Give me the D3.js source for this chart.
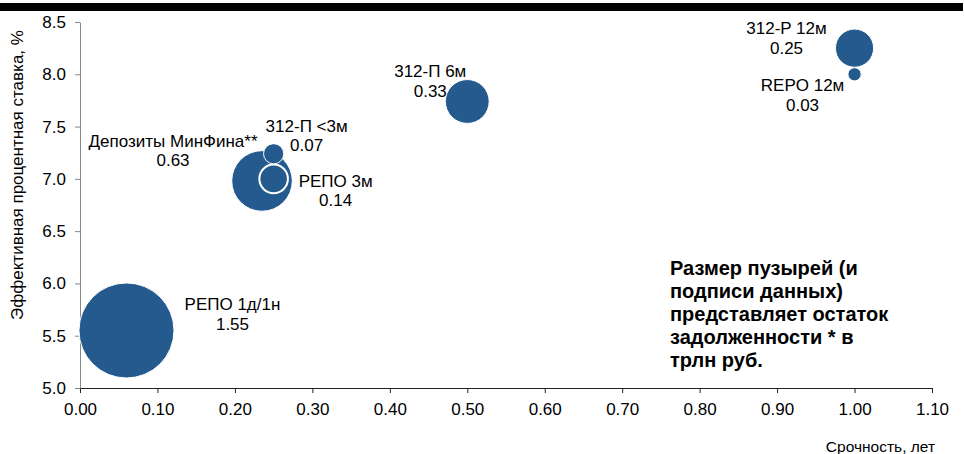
<!DOCTYPE html>
<html>
<head>
<meta charset="utf-8">
<script src="https://cdn.jsdelivr.net/npm/d3@7"></script>
<style>
  html, body { margin: 0; padding: 0; background: #fff; }
  svg { display: block; font-family: "Liberation Sans", Arial, sans-serif; }
</style>
</head>
<body>
<svg id="chart" width="964" height="454"></svg>
<script>
// Instruments: maturity (years), effective rate (%), outstanding debt (trn RUB)
const names    = ["РЕПО 1д/1н", "Депозиты МинФина**", "РЕПО 3м", "312-П <3м", "312-П 6м", "312-P 12м", "REPO 12м"];
const maturity = [0.06, 0.235, 0.25, 0.25, 0.50, 1.00, 1.00];
const rate     = [5.55, 6.98, 7.00, 7.24, 7.74, 8.25, 8.00];
const volume   = [1.55, 0.63, 0.14, 0.07, 0.33, 0.25, 0.03];
// label anchor offsets from bubble centre (px)
const labelDx  = [106, -89, 62, 33, -37, -68, -52];
const labelDy  = [-20, -34, 8, -22, -24, -14, 17];

const xTicks = [0, 0.1, 0.2, 0.3, 0.4, 0.5, 0.6, 0.7, 0.8, 0.9, 1.0, 1.1];
const yTicks = [5.0, 5.5, 6.0, 6.5, 7.0, 7.5, 8.0, 8.5];
const noteLines = ["Размер пузырей (и", "подписи данных)", "представляет остаток", "задолженности * в", "трлн руб."];

const svg = d3.select("#chart");
const blue = "#255a8f";
const font = "Liberation Sans, Arial, sans-serif";

// top rule
svg.append("rect").attr("x", 0).attr("y", 3).attr("width", 963).attr("height", 8).attr("fill", "#000");

const x = d3.scaleLinear().domain([0, 1.1]).range([80, 932]);
const y = d3.scaleLinear().domain([5, 8.5]).range([388, 22]);
const r = d3.scaleSqrt().domain([0, 1.55]).range([0, 47.5]);

// axes
const xAxis = svg.append("g").attr("transform", "translate(0,388)")
  .call(d3.axisBottom(x).tickValues(xTicks).tickFormat(d3.format(".2f")).tickSize(5).tickSizeOuter(0));
xAxis.select(".domain").attr("stroke", "#222");
xAxis.selectAll(".tick line").attr("stroke", "#222");
xAxis.selectAll("text").attr("font-size", 17).attr("fill", "#000").attr("y", 8).attr("dy", 19)
  .attr("font-family", font);

const yAxis = svg.append("g").attr("transform", "translate(80,0)")
  .call(d3.axisLeft(y).tickValues(yTicks).tickFormat(d3.format(".1f")).tickSize(5).tickSizeOuter(0));
yAxis.select(".domain").attr("stroke", "#888");
yAxis.selectAll(".tick line").attr("stroke", "#888");
yAxis.selectAll("text").attr("font-size", 17).attr("fill", "#000").attr("x", -14)
  .attr("font-family", font);

// axis titles
svg.append("text").attr("transform", "translate(23,175) rotate(-90)")
  .attr("text-anchor", "middle").attr("font-size", 17).text("Эффективная процентная ставка, %");
svg.append("text").attr("x", 935).attr("y", 452).attr("text-anchor", "end")
  .attr("font-size", 15.5).text("Срочность, лет");

// bubbles, largest first so small ones stay visible
const data = names.map((n, i) => ({ name: n, x: maturity[i], y: rate[i], v: volume[i], dx: labelDx[i], dy: labelDy[i] }));
const order = data.slice().sort((a, b) => b.v - a.v);

svg.append("g").selectAll("circle").data(order).join("circle")
  .attr("cx", d => x(d.x)).attr("cy", d => y(d.y)).attr("r", d => r(d.v))
  .attr("fill", blue).attr("stroke", "#fff").attr("stroke-width", d => d.v < 0.2 && d.v > 0.1 ? 2 : 1);

// data labels
const lab = svg.append("g").selectAll("text").data(data).join("text")
  .attr("x", d => x(d.x) + d.dx).attr("y", d => y(d.y) + d.dy)
  .attr("text-anchor", "middle").attr("font-size", 17).attr("fill", "#000");
lab.append("tspan").attr("x", d => x(d.x) + d.dx).text(d => d.name);
lab.append("tspan").attr("x", d => x(d.x) + d.dx).attr("dy", 19.5).text(d => d3.format(".2f")(d.v));

// explanatory note
const note = svg.append("text").attr("x", 670).attr("y", 275)
  .attr("font-size", 20).attr("font-weight", "bold").attr("fill", "#000");
noteLines.forEach((t, i) => note.append("tspan").attr("x", 670).attr("dy", i ? 23 : 0).text(t));
</script>
</body>
</html>
